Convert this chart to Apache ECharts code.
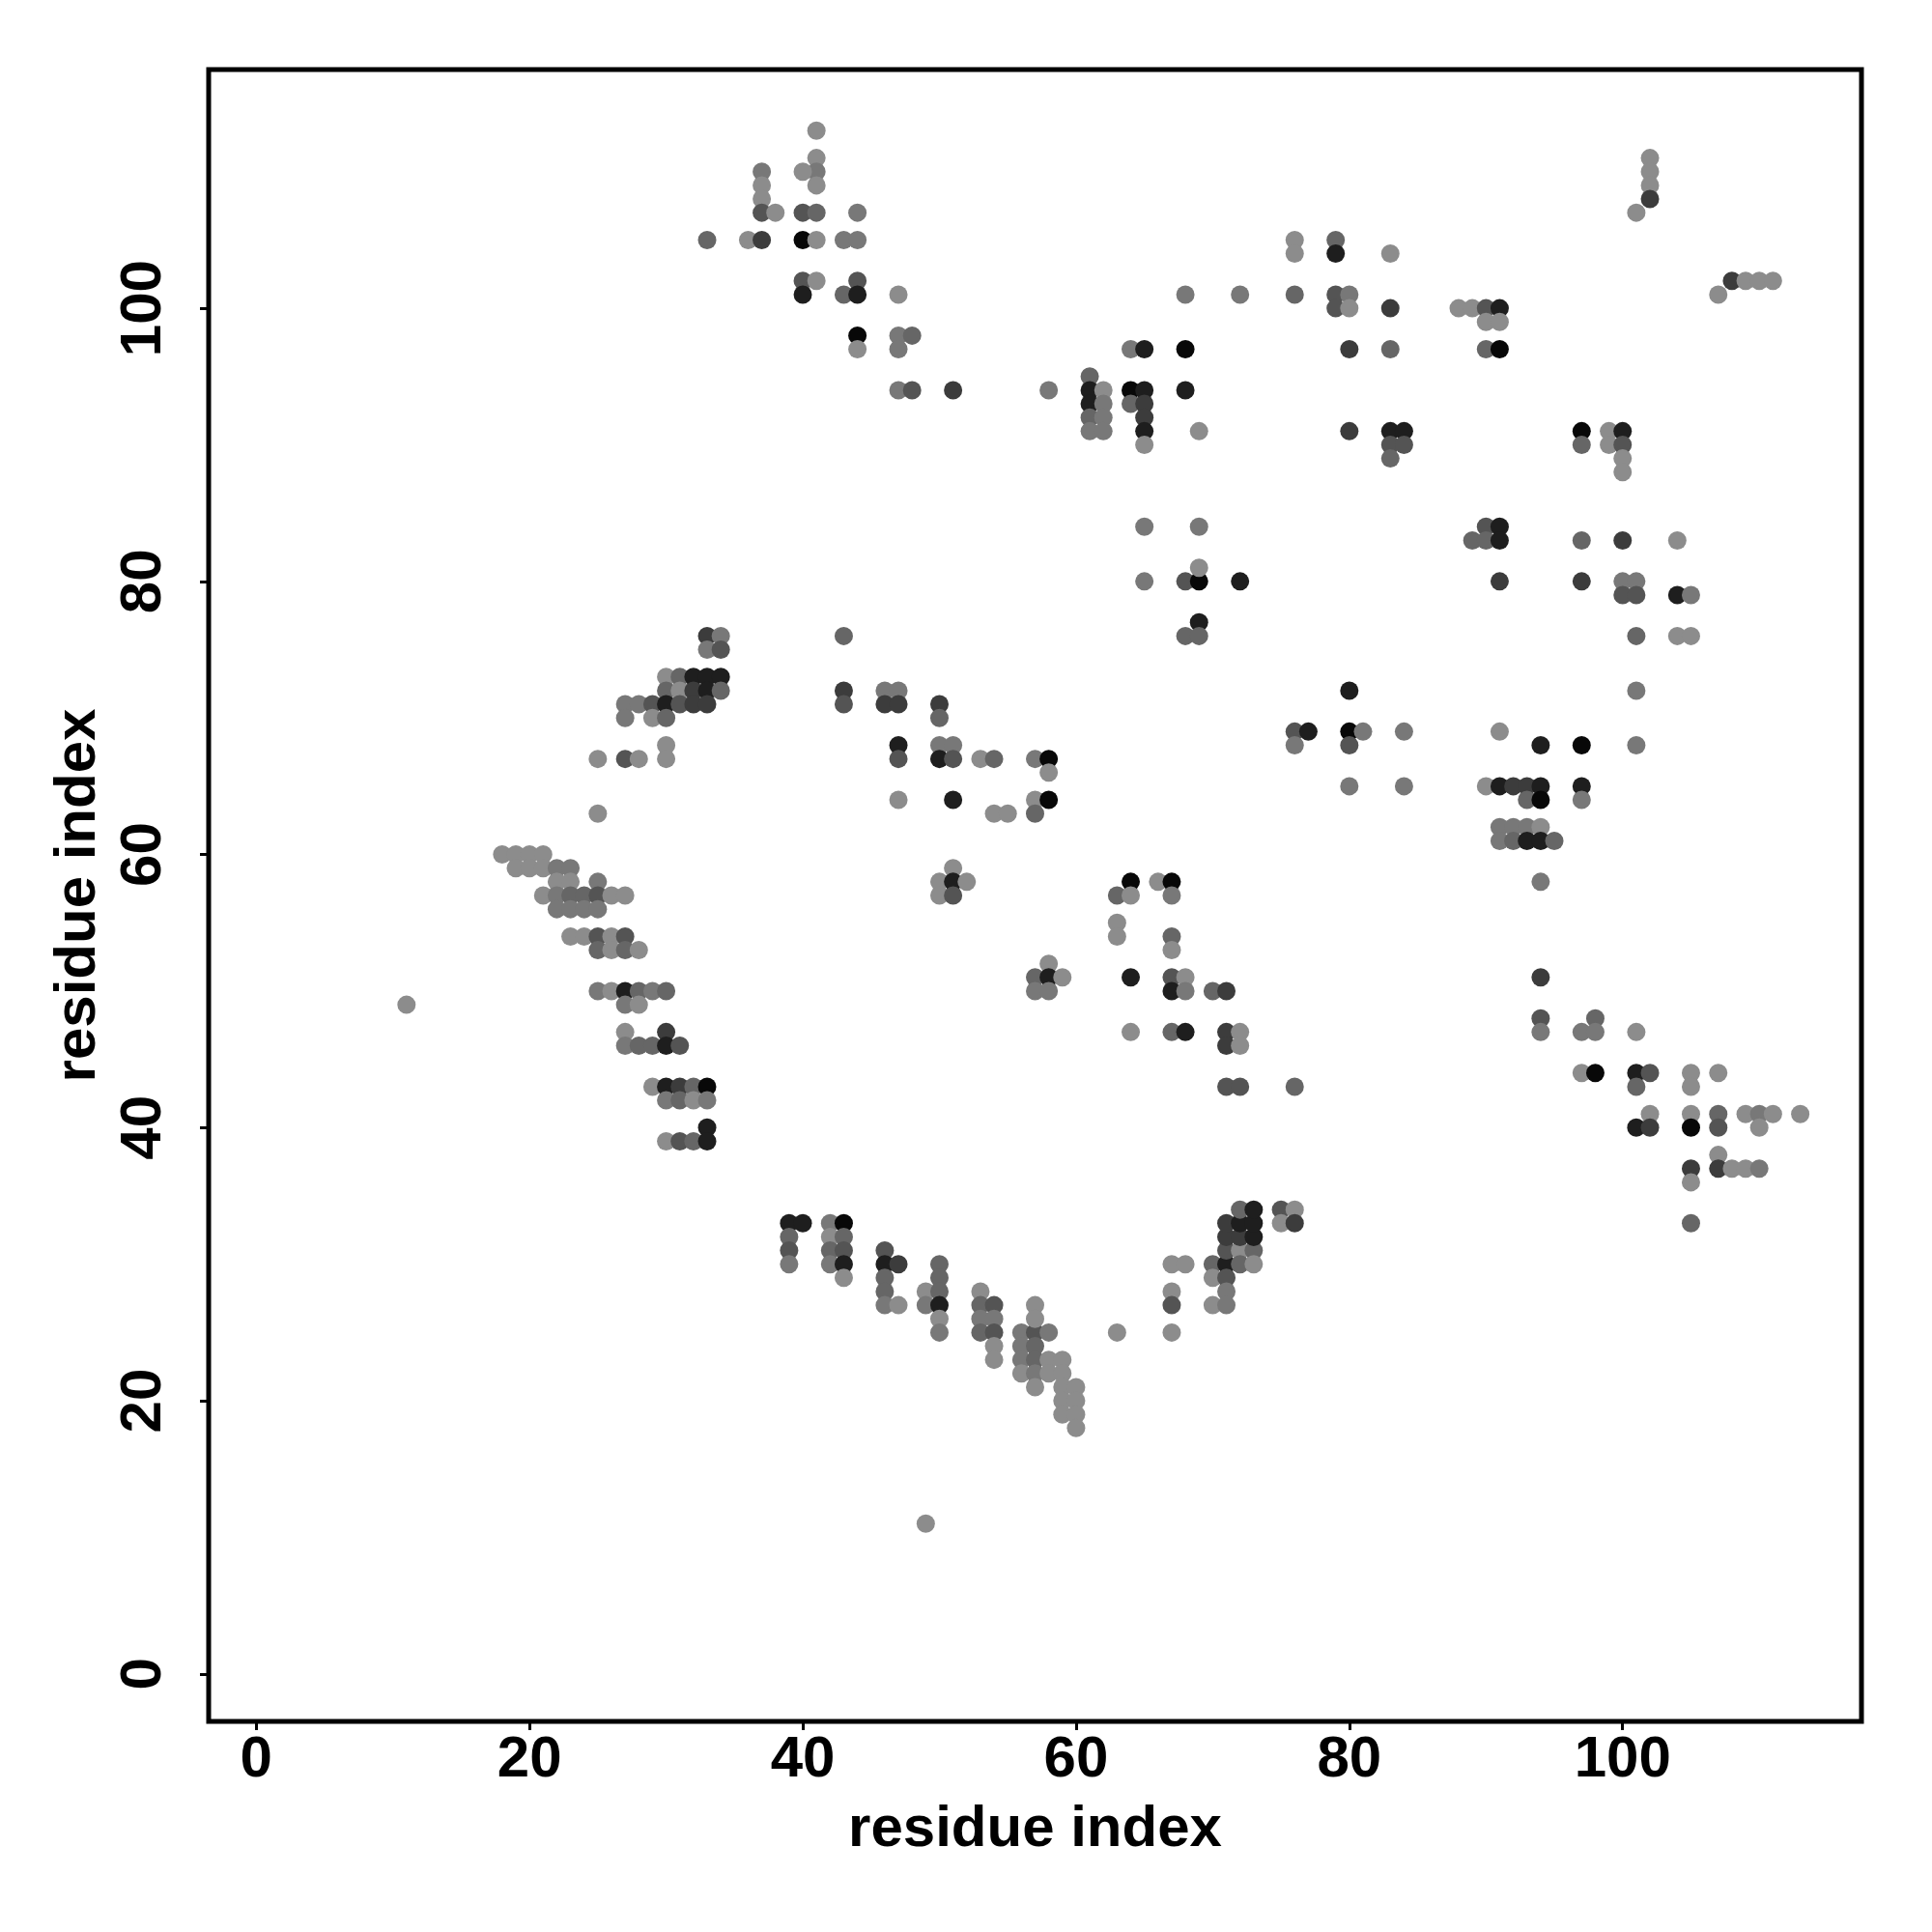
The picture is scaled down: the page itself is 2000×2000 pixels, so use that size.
<!DOCTYPE html>
<html>
<head>
<meta charset="utf-8">
<script src="https://cdn.jsdelivr.net/npm/echarts@6/dist/echarts.min.js"></script>
<style>html,body{margin:0;padding:0;background:#fff;}#chart{width:2000px;height:2000px;}</style>
</head>
<body>
<div id="chart"></div>
<script>
// Each contact: [residue i, residue j, grey level 1 (light) .. 7 (black)]
const contactsTopLeft = [
  [41,113,1],[41,111,1],[41,110,2],[40,110,1],[41,109,1],
  [37,110,2],[37,109,1],[37,108,1],[37,107,4],[38,107,1],[40,107,4],[41,107,3],[44,107,2],
  [33,105,3],[36,105,1],[37,105,5],[40,105,7],[41,105,1],[43,105,2],[44,105,2],
  [40,102,4],[41,102,1],[40,101,6],[43,101,3],[44,102,4],[44,101,6],[47,101,1],
  [44,98,7],[44,97,1],[47,98,2],[48,98,3],[47,97,2],
  [47,94,2],[48,94,4],[51,94,5]
];
const contactsTopMid = [
  [76,105,1],[76,104,1],[79,105,3],[79,104,6],[83,104,1],
  [68,101,2],[72,101,2],[76,101,3],[79,101,4],[80,101,2],
  [79,100,4],[80,100,1],[83,100,5],
  [64,97,2],[65,97,6],[68,97,7],[80,97,5],[83,97,3],
  [58,94,2],[61,95,3],[61,94,6],[61,93,6],[61,92,3],[61,91,2],
  [62,94,1],[62,93,2],[62,92,2],[62,91,2],
  [64,94,7],[65,94,6],[64,93,3],[65,93,5],[65,92,5],[65,91,6],[65,90,1],
  [68,94,6],[69,91,1],
  [80,91,5],[83,91,6],[84,91,6],[83,90,4],[84,90,4],[83,89,3]
];
const contactsTopRight = [
  [102,111,1],[102,110,1],[102,109,1],[102,108,5],[101,107,1],
  [108,102,5],[109,102,1],[110,102,1],[111,102,1],[107,101,1],
  [88,100,1],[89,100,1],[90,100,4],[91,100,6],[90,99,1],[91,99,1],[90,97,3],[91,97,7],
  [97,91,7],[97,90,3],[99,91,1],[99,90,1],[100,91,6],[100,90,4],[100,89,1],[100,88,1]
];
const contactsCenterTop = [
  [65,84,2],[65,80,2],[68,80,4],[69,80,7],[69,84,2],[69,81,1],[69,77,6],[68,76,3],[69,76,3],[72,80,6]
];
const contactsRightMid = [
  [90,84,4],[91,84,6],[89,83,3],[90,83,3],[91,83,6],[97,83,3],[100,83,5],[104,83,1],
  [91,80,5],[97,80,5],[100,80,2],[101,80,2],[100,79,4],[101,79,4],[104,79,6],[105,79,2],
  [101,76,3],[104,76,1],[105,76,1],[101,72,2],[80,72,6],
  [76,69,4],[77,69,6],[76,68,2],[80,69,7],[81,69,2],[80,68,4],[84,69,2],[80,65,2],[84,65,2],
  [91,69,1],[94,68,6],[97,68,7],[101,68,2],
  [90,65,1],[91,65,6],[92,65,5],[93,65,5],[94,65,6],[93,64,3],[94,64,7],[97,65,6],[97,64,2],
  [91,62,2],[92,62,2],[93,62,2],[94,62,1],[91,61,2],[92,61,3],[93,61,6],[94,61,6],[95,61,3],
  [94,58,2]
];
const contactsLeftUpper = [
  [33,76,5],[34,76,2],[33,75,2],[34,75,4],
  [30,73,1],[31,73,3],[32,73,6],[33,73,6],[34,73,6],
  [30,72,3],[31,72,1],[32,72,5],[33,72,6],[34,72,3],
  [27,71,2],[28,71,2],[29,71,4],[30,71,6],[31,71,4],[32,71,5],[33,71,5],
  [27,70,2],[29,70,1],[30,70,3],
  [30,68,1],[30,67,1],[27,67,4],[28,67,1],[25,67,1],[25,63,1]
];
const contactsLeftLower = [
  [18,60,1],[19,60,1],[20,60,1],[21,60,1],
  [19,59,1],[20,59,1],[21,59,1],[22,59,2],[23,59,2],
  [22,58,1],[23,58,1],[25,58,2],
  [21,57,1],[22,57,2],[23,57,3],[24,57,3],[25,57,4],[26,57,1],[27,57,1],
  [22,56,2],[23,56,2],[24,56,2],[25,56,2],
  [23,54,1],[24,54,1],[25,54,4],[26,54,1],[27,54,4],
  [25,53,3],[26,53,1],[27,53,3],[28,53,1],
  [25,50,2],[26,50,1],[27,50,6],[28,50,3],[29,50,2],[30,50,3],
  [27,49,2],[28,49,1],
  [27,47,1],[30,47,5],
  [27,46,2],[28,46,3],[29,46,3],[30,46,6],[31,46,4],
  [29,43,1],[30,43,6],[31,43,5],[32,43,3],[33,43,7],
  [30,42,2],[31,42,3],[32,42,1],[33,42,2],
  [33,40,6],
  [30,39,1],[31,39,4],[32,39,3],[33,39,6]
];
const contactsMidLeft = [
  [43,76,3],[43,72,5],[43,71,4],[46,72,2],[47,72,2],[46,71,5],[47,71,5],
  [50,71,5],[50,70,3],[47,68,6],[47,67,4],[50,68,2],[51,68,2],[50,67,6],[51,67,4],
  [53,67,1],[54,67,3],[57,67,2],[58,67,7],[58,66,1],
  [47,64,1],[51,64,6],[54,63,1],[55,63,1],[57,64,1],[58,64,7],[57,63,3],
  [51,59,1],[50,58,1],[51,58,6],[52,58,1],[50,57,1],[51,57,4]
];
const contactsCenter = [
  [64,58,7],[63,57,3],[64,57,1],[66,58,1],[67,58,7],[67,57,2],
  [63,55,1],[63,54,1],[67,54,3],[67,53,1],
  [58,52,1],[57,51,3],[58,51,6],[59,51,1],[57,50,2],[58,50,2],
  [64,51,6],[67,51,4],[68,51,1],[67,50,6],[68,50,2],[70,50,3],[71,50,5],
  [64,47,1],[67,47,3],[68,47,6],[71,47,5],[72,47,1],[71,46,5],[72,46,1],
  [71,43,4],[72,43,4],[76,43,3]
];
const contactsLowerRight = [
  [94,51,5],[94,48,4],[94,47,2],[97,47,2],[98,48,3],[98,47,2],[101,47,1],
  [97,44,1],[98,44,7],[101,44,6],[102,44,4],[101,43,3],[105,44,1],[107,44,1],[105,43,1],
  [102,41,1],[101,40,6],[102,40,5],[105,41,1],[105,40,7],[107,41,3],[107,40,4],
  [109,41,1],[110,41,2],[111,41,1],[113,41,1],[110,40,1],
  [107,38,1],[107,37,5],[108,37,1],[109,37,1],[110,37,2],[105,37,5],[105,36,1],[105,33,3]
];
const contactsBottom = [
  [39,33,6],[40,33,6],[39,32,3],[39,31,4],[39,30,2],
  [42,33,2],[43,33,7],[42,32,1],[43,32,3],[42,31,3],[43,31,4],[42,30,2],[43,30,6],[43,29,1],
  [46,31,4],[46,30,6],[47,30,5],[46,29,3],[46,28,3],[46,27,2],[47,27,1],
  [49,28,1],[49,27,2],[50,30,3],[50,29,3],[50,28,3],[50,27,6],[50,26,1],[50,25,2],
  [53,28,1],[53,27,3],[54,27,4],[53,26,2],[54,26,2],[53,25,3],[54,25,4],[54,24,1],[54,23,1],
  [56,25,2],[57,25,4],[58,25,2],[57,27,1],[57,26,1],
  [56,24,2],[57,24,3],[56,23,2],[57,23,3],[58,23,1],[59,23,1],
  [56,22,1],[57,22,2],[58,22,1],[59,22,1],[57,21,1],
  [59,21,1],[60,21,1],[59,20,1],[60,20,1],[59,19,1],[60,19,1],[60,18,1],
  [63,25,1],[67,25,1],[67,28,1],[67,27,4],[67,30,1],[68,30,1],
  [70,30,3],[71,30,6],[70,29,1],[71,29,4],[71,28,2],[70,27,1],[71,27,2],
  [71,31,4],[72,31,1],[73,31,3],[72,30,3],[73,30,1],
  [71,32,5],[72,32,5],[73,32,6],[71,33,5],[72,33,6],[73,33,6],
  [72,34,3],[73,34,6],[75,34,4],[76,34,1],[75,33,1],[76,33,5]
];
const contactsIsolated = [[11,49,1],[49,11,1]];

const tickValues = [0, 20, 40, 60, 80, 100];
const axisMin = -3.48, axisMax = 117.48;

const greyPalette = ['#ffffff','#8c8c8c','#787878','#666666','#545454','#3c3c3c','#1e1e1e','#080808'];

const allContacts = [].concat(contactsTopLeft, contactsTopMid, contactsTopRight, contactsCenterTop,
  contactsRightMid, contactsLeftUpper, contactsLeftLower, contactsMidLeft, contactsCenter,
  contactsLowerRight, contactsBottom, contactsIsolated);

const chart = echarts.init(document.getElementById('chart'), null, {renderer: 'canvas'});
const font = 'Liberation Sans, Arial, Helvetica, sans-serif';
const axisCommon = {
  type: 'value', min: axisMin, max: axisMax,
  name: 'residue index', nameLocation: 'middle',
  nameTextStyle: {fontFamily: font, fontWeight: 'bold', fontSize: 60, color: '#000'},
  axisLine: {show: false, onZero: false},
  splitLine: {show: false},
  axisTick: {show: true, inside: false, length: 9, lineStyle: {color: '#000', width: 3}, customValues: tickValues},
  axisLabel: {fontFamily: font, fontWeight: 'bold', fontSize: 60, color: '#000', customValues: tickValues}
};
chart.setOption({
  animation: false,
  backgroundColor: '#fff',
  grid: {left: 216, right: 73, top: 72, bottom: 218, show: true, borderColor: '#000', borderWidth: 5, backgroundColor: 'transparent'},
  xAxis: Object.assign({}, axisCommon, {nameGap: 82, axisLabel: Object.assign({}, axisCommon.axisLabel, {margin: 10})}),
  yAxis: Object.assign({}, axisCommon, {nameGap: 103, nameRotate: 90,
    axisLabel: Object.assign({}, axisCommon.axisLabel, {rotate: 90, margin: 37})}),
  series: [{
    type: 'scatter',
    symbol: 'circle',
    symbolSize: 19,
    data: allContacts,
    itemStyle: {opacity: 1, color: p => greyPalette[p.data[2]]}
  }]
});
</script>
</body>
</html>
